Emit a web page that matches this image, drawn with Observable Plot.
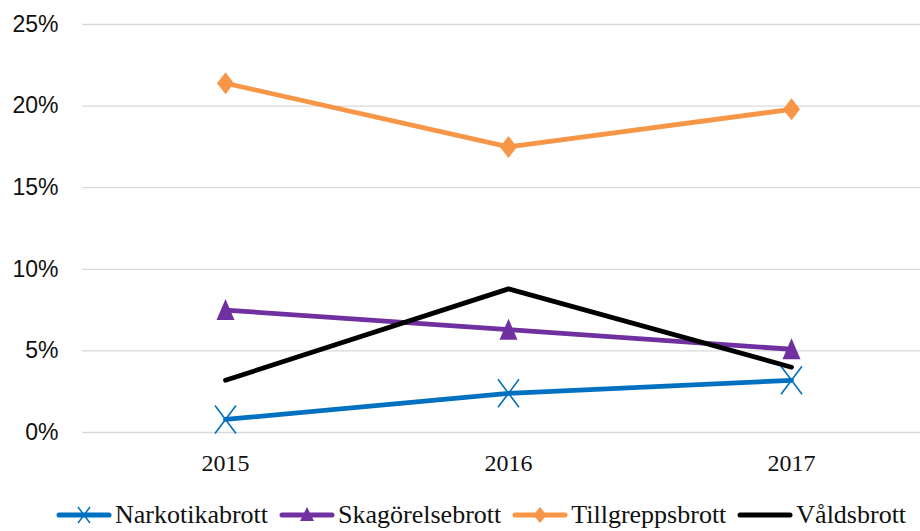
<!DOCTYPE html>
<html>
<head>
<meta charset="utf-8">
<script src="https://cdn.jsdelivr.net/npm/d3@7"></script>
<script src="https://cdn.jsdelivr.net/npm/@observablehq/plot@0.6"></script>
<style>
  html, body { margin: 0; padding: 0; background: #fff; }
  #wrap { position: relative; width: 920px; height: 531px; overflow: hidden; }
  #legend { position: absolute; left: 56px; top: 500px; height: 30px; display: flex; align-items: center;
    font-family: "Liberation Serif", serif; font-size: 26px; color: #111; white-space: nowrap; }
  .item { display: flex; align-items: center; margin-right: 11px; }
  .item span { margin-left: 3px; }
</style>
</head>
<body>
<div id="wrap"><div id="chart"></div><div id="legend"></div></div>
<script>
const years = [2015, 2016, 2017];
const seriesNames = ["Narkotikabrott", "Skagörelsebrott", "Tillgreppsbrott", "Våldsbrott"];
const narkotika = [0.8, 2.4, 3.2];
const skagorelse = [7.5, 6.3, 5.1];
const tillgrepp = [21.4, 17.5, 19.8];
const vald = [3.2, 8.8, 4.0];
const yTicks = [0, 5, 10, 15, 20, 25];
const colors = ["#0070C0", "#7030A0", "#F79646", "#000000"];

const valuesBySeries = [narkotika, skagorelse, tillgrepp, vald];
const data = [];
seriesNames.forEach((s, i) => years.forEach((y, j) => data.push({series: s, year: y, value: valuesBySeries[i][j]})));
const bySeries = s => data.filter(d => d.series === s);

// custom marker symbols
const xMark = {draw(ctx) { ctx.moveTo(-10.5, -14); ctx.lineTo(10.5, 14); ctx.moveTo(10.5, -14); ctx.lineTo(-10.5, 14); }};
const triMark = {draw(ctx) { ctx.moveTo(0, -11); ctx.lineTo(9, 10); ctx.lineTo(-9, 10); ctx.closePath(); }};
const diaMark = {draw(ctx) { ctx.moveTo(0, -11); ctx.lineTo(8.5, 0); ctx.lineTo(0, 11); ctx.lineTo(-8.5, 0); ctx.closePath(); }};

const chart = Plot.plot({
  width: 920,
  height: 490,
  marginLeft: 82,
  marginRight: 0,
  marginTop: 24,
  marginBottom: 58,
  style: {background: "transparent"},
  x: {type: "point", domain: years, range: [224, 791], padding: 0},
  y: {domain: [0, 25]},
  marks: [
    Plot.ruleY(yTicks, {stroke: "#d9d9d9", strokeWidth: 1.3}),
    Plot.axisY({ticks: yTicks, tickSize: 0, tickPadding: 24, tickFormat: d => d + "%", label: null,
      fontSize: 23, fontFamily: "Liberation Sans, Arial, sans-serif", fill: "#111"}),
    Plot.axisX({ticks: years, tickSize: 0, tickPadding: 21, tickFormat: d => String(d), label: null,
      fontSize: 24, fontFamily: "Liberation Serif, serif", fill: "#111"}),
    Plot.line(bySeries("Narkotikabrott"), {x: "year", y: "value", stroke: colors[0], strokeWidth: 4.8, strokeLinecap: "round"}),
    Plot.dot(bySeries("Narkotikabrott"), {x: "year", y: "value", symbol: xMark, r: 5, stroke: colors[0], strokeWidth: 1.6, fill: "none"}),
    Plot.line(bySeries("Skagörelsebrott"), {x: "year", y: "value", stroke: colors[1], strokeWidth: 4.8, strokeLinecap: "round"}),
    Plot.dot(bySeries("Skagörelsebrott"), {x: "year", y: "value", symbol: triMark, r: 5, fill: colors[1], stroke: "none"}),
    Plot.line(bySeries("Tillgreppsbrott"), {x: "year", y: "value", stroke: colors[2], strokeWidth: 4.8, strokeLinecap: "round"}),
    Plot.dot(bySeries("Tillgreppsbrott"), {x: "year", y: "value", symbol: diaMark, r: 5, fill: colors[2], stroke: "none"}),
    Plot.line(bySeries("Våldsbrott"), {x: "year", y: "value", stroke: colors[3], strokeWidth: 4.8, strokeLinecap: "round"})
  ]
});
document.getElementById("chart").appendChild(chart);

// legend
const legend = d3.select("#legend");
const legendMarks = [
  g => g.append("path").attr("d", "M-6,-8L6,8M6,-8L-6,8").attr("stroke", colors[0]).attr("stroke-width", 1.5).attr("fill", "none"),
  g => g.append("path").attr("d", "M0,-8L7,6L-7,6Z").attr("fill", colors[1]),
  g => g.append("path").attr("d", "M0,-8L6.5,0L0,8L-6.5,0Z").attr("fill", colors[2]),
  g => null
];
seriesNames.forEach((s, i) => {
  const item = legend.append("div").attr("class", "item");
  const svg = item.append("svg").attr("width", 56).attr("height", 20);
  svg.append("line").attr("x1", 3).attr("x2", 53).attr("y1", 10).attr("y2", 10)
    .attr("stroke", colors[i]).attr("stroke-width", 5).attr("stroke-linecap", "round");
  legendMarks[i](svg.append("g").attr("transform", "translate(28,10)"));
  item.append("span").text(s);
});
</script>
</body>
</html>
